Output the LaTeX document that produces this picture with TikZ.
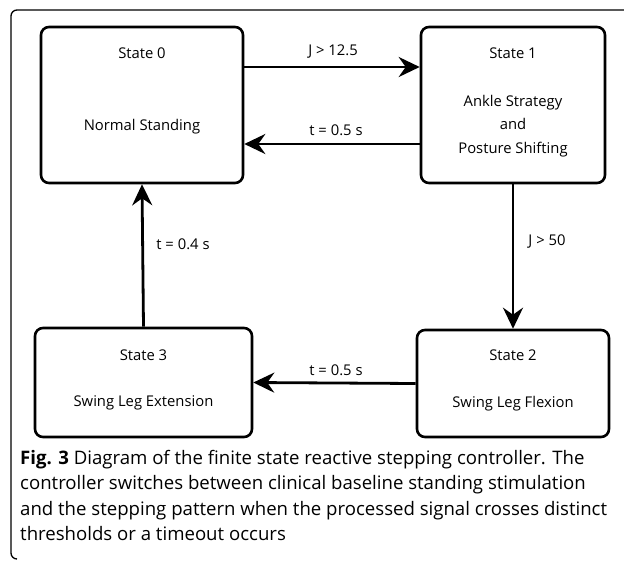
\documentclass[tikz,border=0pt]{standalone}
\usepackage{fontspec}
\setmainfont{Open Sans}
\usepackage{tikz}
\usetikzlibrary{positioning,calc,arrows.meta}

\begin{document}
\begin{tikzpicture}[x=1pt,y=-1pt]
        \tikzstyle{state}=[draw, line width=2.6pt, rounded corners=8pt, inner sep=0pt]
        \tikzstyle{txt}=[font=\fontsize{14.8}{17}\selectfont, inner sep=0pt]
        \tikzstyle{arr}=[line width=2.8pt, -{Stealth[length=21pt,width=20pt,inset=7pt]}]

        \useasboundingbox (0,0) rectangle (624,563);
        \draw[line width=1.3pt, rounded corners=6pt] (624,10) -- (11,10) -- (11,559) -- (17,559);

        \node[state, minimum width=202pt, minimum height=156pt] (s0) at (142,105) {};
        \node[state, minimum width=184pt, minimum height=156pt] (s1) at (513,105) {};
        \node[state, minimum width=192pt, minimum height=107pt] (s2) at (513,383.5) {};
        \node[state, minimum width=217pt, minimum height=109pt] (s3) at (143.5,382.5) {};

        \node[txt] (t0) at (142,53) {State 0};
        \node[txt] (n0) at (142,127) {Normal Standing};
        \node[txt] (t1) at (513,53) {State 1};
        \node[txt, align=center, font=\fontsize{14.8}{23.5}\selectfont] (n1) at (513,126) {Ankle Strategy\\and\\Posture Shifting};
        \node[txt] (t2) at (513,355) {State 2};
        \node[txt] (n2) at (513,404) {Swing Leg Flexion};
        \node[txt] (t3) at (143.5,355) {State 3};
        \node[txt] (n3) at (143.5,403) {Swing Leg Extension};

        \draw[arr] ([yshift=38pt]s0.east) -- ([yshift=38pt]s1.west);
        \draw[arr] ([yshift=-39pt]s1.west) -- ([yshift=-39pt]s0.east);
        \draw[arr] (s1.south) -- (s2.north);
        \draw[arr] (s2.west) -- (s3.east);
        \draw[arr] (s3.north) -- (s0.south);

        \node[txt] (c01) at (333,52) {J > 12.5};
        \node[txt] (c10) at (336,130) {t = 0.5 s};
        \node[txt] (c12) at (547,242) {J > 50};
        \node[txt] (c23) at (336,370) {t = 0.5 s};
        \node[txt] (c30) at (183,244) {t = 0.4 s};

        \node[anchor=north west, align=left, inner sep=0pt, font=\fontsize{18.6}{25.5}\selectfont] (cap) at (20,450)
            {\textbf{Fig. 3} Diagram of the finite state reactive stepping controller. The\\
             controller switches between clinical baseline standing stimulation\\
             and the stepping pattern when the processed signal crosses distinct\\
             thresholds or a timeout occurs};
    \end{tikzpicture}
\end{document}
